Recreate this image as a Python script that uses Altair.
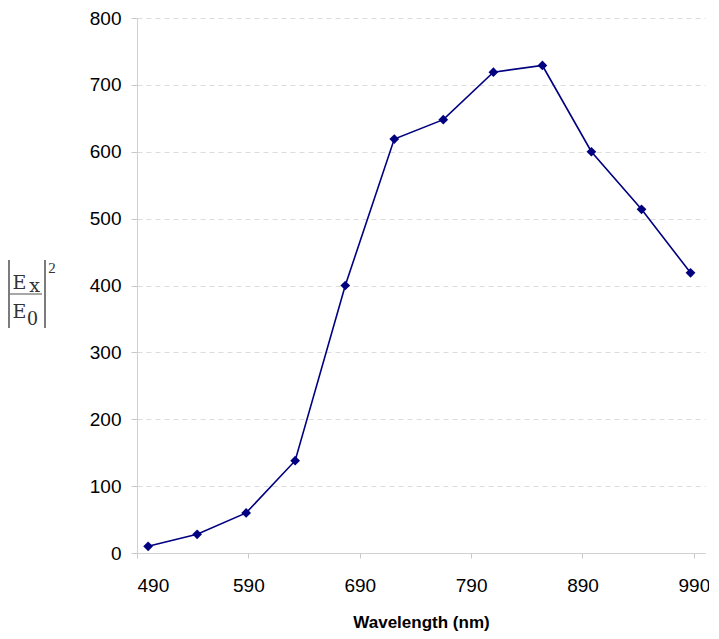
import altair as alt
import pandas as pd

wavelength = [500, 544, 588, 632, 677, 721, 765, 810, 854, 898, 943, 987]
intensity = [10, 28, 60, 138, 400, 619, 648, 719, 729, 600, 514, 419]
x_ticks = [490, 590, 690, 790, 890, 990]
y_ticks = [0, 100, 200, 300, 400, 500, 600, 700, 800]

df = pd.DataFrame({"wavelength": wavelength, "intensity": intensity})
NAVY = "#000080"

base = alt.Chart(df).encode(
    x=alt.X("wavelength:Q",
            scale=alt.Scale(domain=[490, 1000], nice=False, zero=False),
            axis=alt.Axis(values=x_ticks, title="Wavelength (nm)", grid=False,
                          tickSize=5, labelPadding=18, titlePadding=19,
                          format="d")),
    y=alt.Y("intensity:Q",
            scale=alt.Scale(domain=[0, 800], nice=False),
            axis=alt.Axis(values=y_ticks, title=None, grid=True,
                          gridDash=[5, 4], gridColor="#dcdcdc",
                          tickSize=6, labelPadding=10, format="d")),
)
line = base.mark_line(color=NAVY, strokeWidth=1.6)
pts = base.mark_point(shape="diamond", filled=True, color=NAVY, size=95, opacity=1)

one = pd.DataFrame({"d": [0]})

def txt(s, x, y, size, font="DejaVu Serif"):
    return alt.Chart(one).mark_text(
        text=s, font=font, fontSize=size, color="#333333",
        align="center", baseline="alphabetic"
    ).encode(x=alt.value(x), y=alt.value(y))

def rule(x1, x2, y1, y2, w=1.4, color="#444444"):
    return alt.Chart(one).mark_rule(color=color, strokeWidth=w).encode(
        x=alt.value(x1), x2=alt.value(x2), y=alt.value(y1), y2=alt.value(y2))

label_layers = [
    rule(-128, -128, 242, 310),
    rule(-92, -92, 242, 310),
    rule(-127, -95, 276, 276, 1.3, "#777777"),
    txt("E", -117.5, 271, 19),
    txt("x", -102.5, 274, 19),
    txt("E", -117.5, 300, 19),
    txt("0", -104.5, 307, 21, "Liberation Serif"),
    txt("2", -85, 255, 15, "Liberation Serif"),
]

chart = alt.layer(line, pts, *label_layers).properties(
    width=568, height=535,
    autosize=alt.AutoSizeParams(type="none"),
    padding={"left": 129, "top": 10, "right": 4, "bottom": 78},
).configure_view(stroke=None).configure_axis(
    labelFont="Liberation Sans", labelFontSize=19, labelColor="#000000",
    titleFont="Liberation Sans", titleFontSize=17, titleFontWeight="bold",
    titleColor="#000000", domainColor="#d0d0d0", tickColor="#c8c8c8",
)

chart.save("out.html", embed_options={"renderer": "svg", "actions": False})
